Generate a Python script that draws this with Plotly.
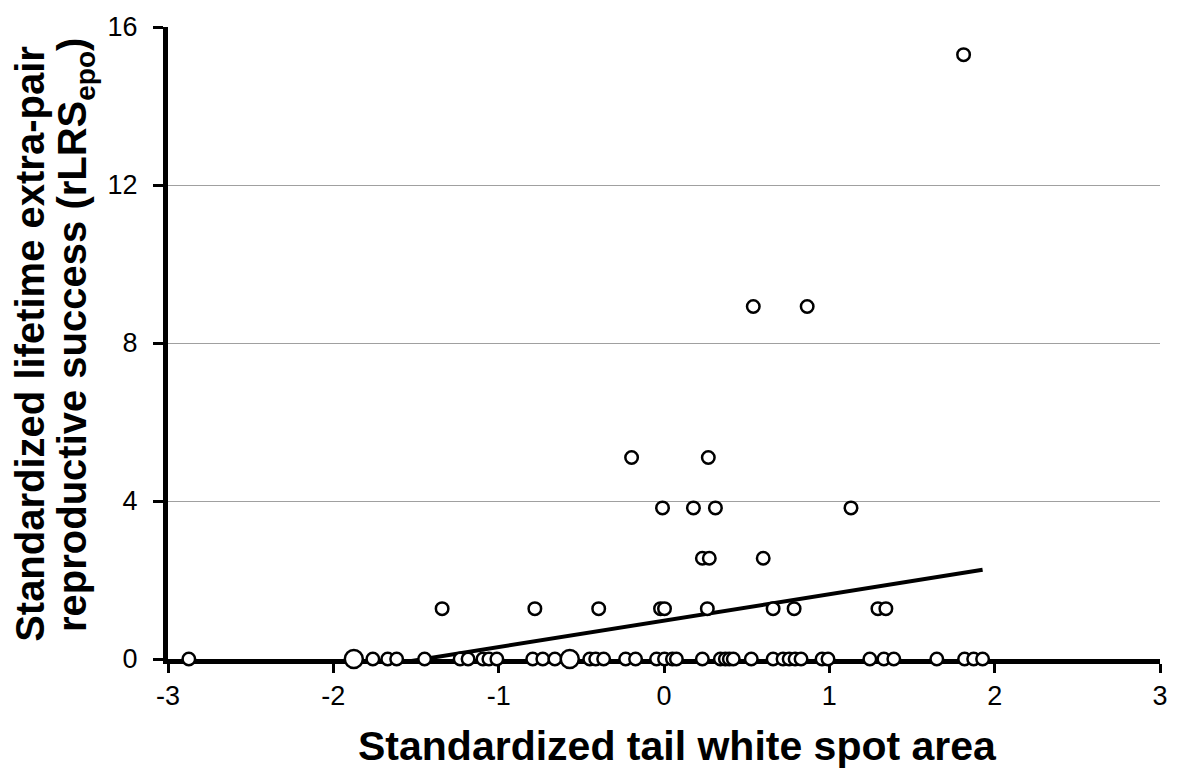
import plotly.graph_objects as go

# zero-row points (standardized tail white spot area)
x_zero = [-2.874, -1.761, -1.671, -1.617, -1.448, -1.233, -1.185, -1.095, -1.059, -1.011,
          -0.794, -0.733, -0.660, -0.449, -0.413, -0.365, -0.232, -0.172, -0.045, 0.003,
          0.051, 0.075, 0.232, 0.341, 0.371, 0.395, 0.419, 0.528, 0.660, 0.720, 0.757,
          0.793, 0.829, 0.956, 0.992, 1.245, 1.330, 1.390, 1.650, 1.818, 1.873, 1.927]
x_zero_big = [-1.876, -0.570]

x_pos = [-1.342, -0.781, -0.395, -0.021, 0.003, 0.262, 0.660, 0.787, 1.294, 1.342,
         0.232, 0.274, 0.600,
         -0.009, 0.178, 0.311, 1.131,
         -0.196, 0.268,
         0.540, 0.866,
         1.812]
y_pos = [1.275] * 10 + [2.55] * 3 + [3.825] * 4 + [5.1] * 2 + [8.925] * 2 + [15.3]

# trend line (fitted)
trend_intercept = 0.97
trend_slope = 0.668

x_ticks = [-3, -2, -1, 0, 1, 2, 3]
y_ticks = [0, 4, 8, 12, 16]

x_title = "Standardized tail white spot area"
y_title_1 = "Standardized lifetime extra-pair"
y_title_2 = "reproductive success (rLRS<sub>epo</sub>)"

all_x = x_zero + x_zero_big + x_pos
tx = [min(all_x), max(all_x)]
ty = [trend_intercept + trend_slope * v for v in tx]

marker = dict(color="white", line=dict(color="black", width=2.5))

fig = go.Figure()
fig.add_trace(go.Scatter(x=tx, y=ty, mode="lines", line=dict(color="black", width=4),
                         hoverinfo="skip"))
fig.add_trace(go.Scatter(x=x_zero, y=[0] * len(x_zero), mode="markers",
                         marker=dict(size=12.5, symbol="circle", **marker), cliponaxis=False))
fig.add_trace(go.Scatter(x=x_zero_big, y=[0] * len(x_zero_big), mode="markers",
                         marker=dict(size=18, symbol="circle", **marker), cliponaxis=False))
fig.add_trace(go.Scatter(x=x_pos, y=y_pos, mode="markers",
                         marker=dict(size=12.5, symbol="circle", **marker), cliponaxis=False))

font_family = "Liberation Sans"
fig.update_layout(
    width=1180, height=770,
    margin=dict(l=168, r=17, t=27, b=111),
    paper_bgcolor="white", plot_bgcolor="white",
    showlegend=False,
    font=dict(family=font_family, color="black", size=27),
    xaxis=dict(range=[-3, 3], tickvals=x_ticks, ticktext=[str(v) for v in x_ticks],
               showgrid=False, zeroline=False, showline=True, linecolor="black", linewidth=5,
               ticks="outside", ticklen=9, tickwidth=3, tickcolor="black",
               tickfont=dict(size=27, family=font_family), layer="below traces"),
    yaxis=dict(range=[0, 16], tickvals=y_ticks, ticktext=[str(v) for v in y_ticks],
               showgrid=True, gridcolor="#a0a0a0", gridwidth=1,
               zeroline=False, showline=True, linecolor="black", linewidth=5,
               ticks="outside", ticklen=10, tickwidth=3, tickcolor="black",
               ticklabelstandoff=10,
               tickfont=dict(size=27, family=font_family), layer="below traces"),
    annotations=[
        dict(text="<b>" + x_title + "</b>", xref="paper", yref="paper",
             x=0.5136, y=-0.137, xanchor="center", yanchor="middle", showarrow=False,
             font=dict(size=41, family=font_family, color="black")),
        dict(text="<b>" + y_title_1 + "</b>", xref="paper", yref="paper",
             x=-0.1385, y=0.498, xanchor="center", yanchor="middle", showarrow=False,
             textangle=-90, font=dict(size=40, family=font_family, color="black")),
        dict(text="<b>" + y_title_2 + "</b>", xref="paper", yref="paper",
             x=-0.0935, y=0.513, xanchor="center", yanchor="middle", showarrow=False,
             textangle=-90, font=dict(size=40, family=font_family, color="black")),
    ],
)

fig.write_html("out.html", config={"displayModeBar": False},
               post_script="document.body.style.margin='0';document.body.style.overflow='hidden';")
